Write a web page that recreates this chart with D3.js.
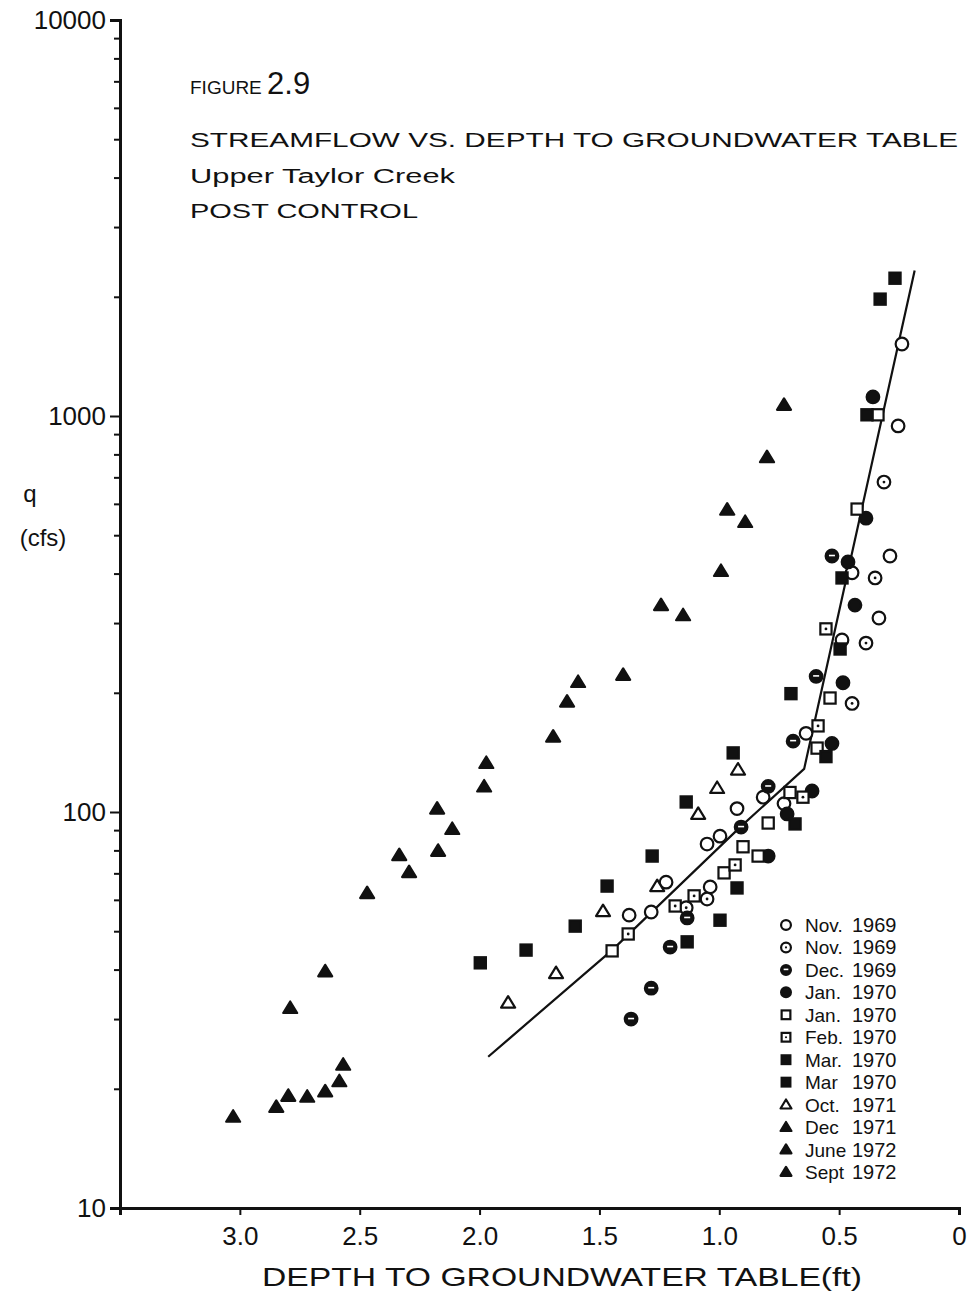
<!DOCTYPE html>
<html>
<head>
<meta charset="utf-8">
<script src="https://cdn.jsdelivr.net/npm/d3@7"></script>
<style>
  html, body { margin: 0; padding: 0; background: #fff; }
  svg { display: block; }
  text { font-family: "Liberation Sans", Arial, sans-serif; fill: #111; }
</style>
</head>
<body>
<svg id="chart" width="973" height="1291"></svg>
<script>
// Streamflow q (cfs) against depth to groundwater table (ft), one array per sampling month.
// Each entry is [depth_ft, q_cfs].
const nov1969Open = [[0.238,1520],[0.254,944],[0.288,443],[0.446,402],[0.334,309],[0.488,272],
  [0.638,158],[0.817,109],[0.730,105],[0.926,102],[0.997,86.9],[1.051,83.0],[1.222,66.5],
  [1.038,64.7],[1.284,55.9],[1.376,54.9]];
const nov1969Dot = [[0.313,681],[0.350,390],[0.388,267],[0.446,188],[1.051,60.3],[1.138,57.3]];
const dec1969 = [[0.530,443],[0.596,220],[0.692,151],[0.796,116],[0.909,91.6],[1.134,54.0],
  [1.205,45.6],[1.284,35.9],[1.368,30.0]];
const jan1970Filled = [[0.359,1117],[0.388,552],[0.463,428],[0.434,333],[0.484,212],[0.530,149],
  [0.613,113],[0.717,98.9],[0.796,77.4]];
const jan1970Open = [[0.338,1007],[0.425,582],[0.538,194],[0.592,145],[0.705,112],[0.796,93.8],
  [0.901,81.7],[0.980,70.2],[0.838,77.4],[1.447,44.6]];
const feb1970 = [[0.555,290],[0.588,165],[0.651,109],[0.934,73.5],[1.105,61.4],[1.184,57.9],[1.380,49.2]];
const mar1970a = [[0.267,2228],[0.329,1973],[0.384,1007],[0.488,390],[0.496,258],[0.701,199],
  [0.555,138],[0.684,93.3],[0.926,64.3]];
const mar1970b = [[0.942,141],[1.138,106],[1.280,77.4],[1.468,65.0],[1.601,51.5],[0.997,53.3],
  [1.134,47.0],[1.806,44.8],[1.997,41.6]];
const oct1971 = [[1.881,33.0],[1.681,39.2],[1.485,56.2],[1.259,65.0],[1.088,98.9],[1.009,115],[0.922,128]];
const dec1971 = [[0.730,1067],[0.801,787],[0.967,580],[0.892,540],[0.993,406],[1.243,333],[1.151,314]];
const june1972 = [[1.401,222],[1.589,213],[1.635,190],[1.693,155],[1.972,133],[1.981,116],[2.177,102],
  [2.114,90.6],[2.335,77.8],[2.173,79.8],[2.294,70.5],[2.469,62.4]];
const sept1972 = [[2.644,39.6],[2.790,32.0],[2.569,23.0],[2.585,20.9],[2.644,19.7],[2.719,19.1],
  [2.798,19.2],[2.848,18.0],[3.028,17.0]];

// Fitted relation (two-segment curve)
const fitDepth = [1.964, 1.447, 0.913, 0.646, 0.185];
const fitQ = [24.1, 44.8, 91.6, 128.5, 2330];

// Legend entries, in order
const legendLabels = ["Nov. 1969","Nov. 1969","Dec. 1969","Jan. 1970","Jan. 1970","Feb. 1970",
  "Mar. 1970","Mar 1970","Oct. 1971","Dec 1971","June 1972","Sept 1972"];
const seriesData = [nov1969Open, nov1969Dot, dec1969, jan1970Filled, jan1970Open, feb1970,
  mar1970a, mar1970b, oct1971, dec1971, june1972, sept1972];
const seriesSymbols = ["circleOpen","circleDot","circleBar","circleFilled","squareOpen","squareDot",
  "squareFilled","squareFilled","triangleOpen","triangleFilled","triangleFilled","triangleFilled"];

// Axis ticks
const xTicks = [3.0, 2.5, 2.0, 1.5, 1.0, 0.5, 0];
const yMajor = [10, 100, 1000, 10000];

const ink = "#111";
const svg = d3.select("#chart");

const x = d3.scaleLinear().domain([3.5, 0]).range([120, 959]);
const y = d3.scaleLog().domain([10, 10000]).range([1208, 20]);

// ---- axes ----
const yTickVals = [];
for (let p = 10; p < 10000; p *= 10) for (let k = 1; k < 10; k++) yTickVals.push(p * k);
yTickVals.push(10000);
const isMajor = v => yMajor.some(m => Math.abs(m - v) < 1e-6);

const yAxis = svg.append("g")
  .attr("transform", "translate(120,0)")
  .call(d3.axisLeft(y).tickValues(yTickVals).tickSizeOuter(0).tickSize(10).tickPadding(4)
    .tickFormat(v => isMajor(v) ? String(Math.round(v)) : ""));
yAxis.select(".domain").attr("stroke", ink).attr("stroke-width", 3);
yAxis.selectAll(".tick line").attr("stroke", ink).attr("stroke-width", 2)
  .attr("x2", v => isMajor(v) ? -10 : -6);
yAxis.selectAll(".tick text").attr("font-size", 26).attr("fill", ink)
  .style("font-family", "'Liberation Sans', Arial, sans-serif");

const xAxis = svg.append("g")
  .attr("transform", "translate(0,1208)")
  .call(d3.axisBottom(x).tickValues(xTicks).tickSizeOuter(0).tickSize(7).tickPadding(12)
    .tickFormat(v => v === 0 ? "0" : d3.format(".1f")(v)));
xAxis.select(".domain").attr("stroke", ink).attr("stroke-width", 3);
xAxis.selectAll(".tick line").attr("stroke", ink).attr("stroke-width", 2);
xAxis.selectAll(".tick text").attr("font-size", 26).attr("fill", ink)
  .style("font-family", "'Liberation Sans', Arial, sans-serif");

// ---- axis titles ----
svg.append("text").attr("x", 262).attr("y", 1286).attr("font-size", 26)
  .attr("textLength", 600).attr("lengthAdjust", "spacingAndGlyphs")
  .text("DEPTH TO  GROUNDWATER  TABLE(ft)");
svg.append("text").attr("x", 30).attr("y", 502).attr("font-size", 24).attr("text-anchor", "middle").text("q");
svg.append("text").attr("x", 43).attr("y", 546).attr("font-size", 24).attr("text-anchor", "middle").text("(cfs)");

// ---- titles ----
const fig = svg.append("text").attr("x", 190).attr("y", 94);
fig.append("tspan").attr("font-size", 19).text("FIGURE ");
fig.append("tspan").attr("font-size", 31).text("2.9");
svg.append("text").attr("x", 190).attr("y", 147).attr("font-size", 21)
  .attr("textLength", 768).attr("lengthAdjust", "spacingAndGlyphs")
  .text("STREAMFLOW VS. DEPTH TO GROUNDWATER TABLE");
svg.append("text").attr("x", 190).attr("y", 183).attr("font-size", 20)
  .attr("textLength", 265).attr("lengthAdjust", "spacingAndGlyphs")
  .text("Upper  Taylor Creek");
svg.append("text").attr("x", 190).attr("y", 218).attr("font-size", 20)
  .attr("textLength", 228).attr("lengthAdjust", "spacingAndGlyphs")
  .text("POST  CONTROL");

// ---- fitted line ----
const fitPts = fitDepth.map((d, i) => [d, fitQ[i]]);
svg.append("path")
  .attr("d", d3.line().x(p => x(p[0])).y(p => y(p[1])).curve(d3.curveLinear)(fitPts))
  .attr("fill", "none").attr("stroke", ink).attr("stroke-width", 2.2);

// ---- marker drawing ----
function drawMarker(g, kind, s) {
  const sw = 2.2;
  if (kind.startsWith("circle")) {
    const r = 6.3 * s;
    const filled = kind === "circleFilled" || kind === "circleBar";
    g.append("circle").attr("r", r).attr("fill", filled ? ink : "#fff")
      .attr("stroke", ink).attr("stroke-width", sw);
    if (kind === "circleDot") g.append("circle").attr("r", 1.4 * s).attr("fill", ink);
    if (kind === "circleBar") g.append("line").attr("x1", -3 * s).attr("x2", 3 * s)
      .attr("y1", -0.5).attr("y2", -0.5).attr("stroke", "#fff").attr("stroke-width", 1.6);
  } else if (kind.startsWith("square")) {
    const h = 5.6 * s;
    g.append("rect").attr("x", -h).attr("y", -h).attr("width", 2 * h).attr("height", 2 * h)
      .attr("fill", kind === "squareFilled" ? ink : "#fff").attr("stroke", ink).attr("stroke-width", sw);
    if (kind === "squareDot") g.append("circle").attr("r", 1.4 * s).attr("fill", ink);
  } else {
    const w = 7 * s, top = -6.5 * s, bot = 5 * s;
    g.append("path").attr("d", `M0,${top}L${w},${bot}L${-w},${bot}Z`)
      .attr("fill", kind === "triangleFilled" ? ink : "#fff")
      .attr("stroke", ink).attr("stroke-width", sw).attr("stroke-linejoin", "round");
  }
}

// ---- data points ----
const pts = svg.append("g");
seriesData.forEach((arr, i) => {
  arr.forEach(p => {
    const g = pts.append("g").attr("transform", `translate(${x(p[0])},${y(p[1])})`);
    drawMarker(g, seriesSymbols[i], 1);
  });
});

// ---- legend ----
const legend = svg.append("g");
legendLabels.forEach((lab, i) => {
  const cy = 925 + i * 22.45;
  const g = legend.append("g").attr("transform", `translate(786,${cy})`);
  drawMarker(g, seriesSymbols[i], 0.78);
  const parts = lab.split(" ");
  legend.append("text").attr("x", 805).attr("y", cy + 7).attr("font-size", 19).text(parts[0]);
  legend.append("text").attr("x", 852).attr("y", cy + 7).attr("font-size", 20).text(parts[1]);
});
</script>
</body>
</html>
